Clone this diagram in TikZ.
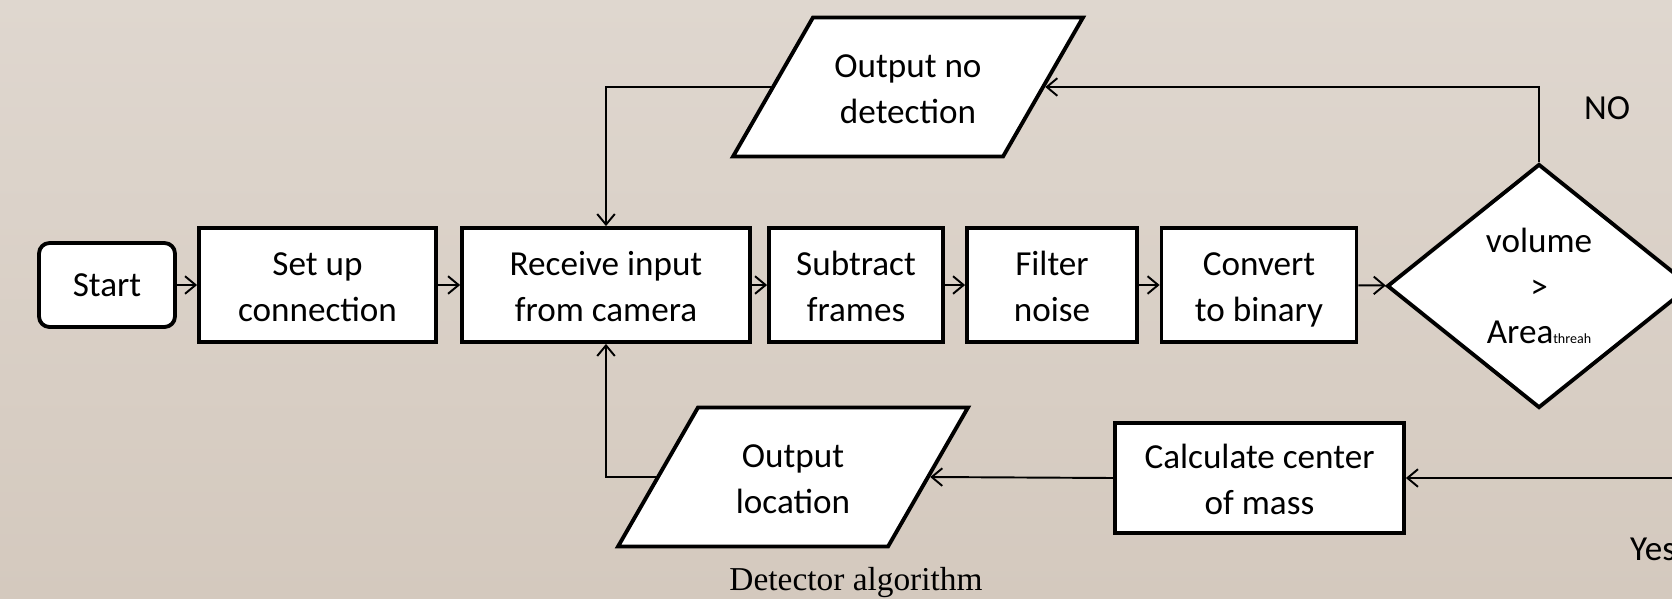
\documentclass[tikz,border=0pt]{standalone}
\usepackage{fontspec}
\setmainfont{Carlito}
\newfontfamily\capfont{Liberation Serif}
\usetikzlibrary{shapes.geometric,arrows.meta}

\definecolor{bgtop}{RGB}{223,215,207}
\definecolor{bgbot}{RGB}{212,201,190}

\newcommand{\twoline}[2]{\begin{tabular}{@{}c@{}}#1\\#2\end{tabular}}

\tikzset{
  lines/.style={text height=31.8pt, text depth=16.2pt},
  procbox/.style={draw, rectangle, fill=white, line width=2.2pt, minimum height=2.28cm, align=center, inner sep=0pt, lines},
  startbox/.style={draw, rectangle, rounded corners=6pt, fill=white, line width=2.2pt, minimum width=2.72cm, minimum height=1.68cm, align=center},
  iobox/.style={draw, trapezium, trapezium left angle=60, trapezium right angle=120, trapezium stretches body, fill=white, line width=2.2pt, minimum width=7cm, minimum height=2.78cm, align=center, inner xsep=0pt, inner ysep=15.4pt, lines},
  decbox/.style={draw, diamond, aspect=1.25, fill=white, line width=2.2pt, minimum width=6.08cm, minimum height=4.88cm, align=center, inner sep=0pt},
  flow/.style={->, line width=1.1pt}
}

\begin{document}
\begin{tikzpicture}[x=0.02cm, y=-0.02cm, >={Straight Barb[length=6pt,width=10pt]}, font=\fontsize{20}{26}\selectfont]
\useasboundingbox (0,0) rectangle (1672,598);
\clip (0,0) rectangle (1672,598);
\shade[top color=bgtop, bottom color=bgbot] (0,0) rectangle (1672,598);

% main row
\node[startbox] (start) at (107,285) {Start};
\node[procbox, minimum width=4.74cm] (setup) at (317.5,285) {\twoline{Set up}{connection}};
\node[procbox, minimum width=5.76cm] (recv) at (606,285) {\twoline{Receive input}{from camera}};
\node[procbox, minimum width=3.48cm] (sub) at (856,285) {\twoline{Subtract}{frames}};
\node[procbox, minimum width=3.4cm] (filt) at (1052,285) {\twoline{Filter}{noise}};
\node[procbox, minimum width=3.9cm] (conv) at (1259,285) {\twoline{Convert}{to binary}};
\node[decbox] (dec) at (1539,286) {volume\\>\\Area{\fontsize{8}{8}\selectfont threah}};

% outputs
\node[iobox] (nodet) at (908,87) {\twoline{Output no}{detection}};
\node[iobox] (outloc) at (793,477) {\twoline{Output}{location}};
\node[procbox, minimum width=5.78cm, minimum height=2.2cm] (calc) at (1259.5,478) {\twoline{Calculate center}{of mass}};

\draw[flow] (start) -- (setup);
\draw[flow] (setup) -- (recv);
\draw[flow] (recv) -- (sub);
\draw[flow] (sub) -- (filt);
\draw[flow] (filt) -- (conv);
\draw[flow] (conv) -- (dec);
\draw[flow] (dec.north) |- (nodet.east);
\draw[flow] (nodet.west) -| (recv.north);
\draw[flow] (dec.east) -- ++(40,0) |- (calc.east);
\draw[flow] (calc.west) -- (outloc.east);
\draw[flow] (outloc.west) -| (recv.south);

% labels
\node (no) at (1607,108) {NO};
\node[anchor=base west] (yes) at (1624,560) {Yes};
\node[anchor=base, font=\capfont\fontsize{19}{22}\selectfont] (cap) at (856,590) {Detector algorithm};
\end{tikzpicture}
\end{document}
